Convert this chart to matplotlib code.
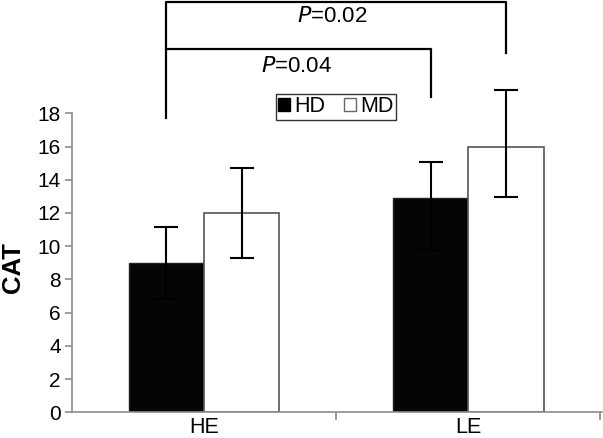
import matplotlib
matplotlib.use('Agg')
import matplotlib.pyplot as plt
import numpy as np
from matplotlib.patches import Patch

groups = ['HE', 'LE']
series = ['HD', 'MD']
hd_vals = [9.0, 12.9]
md_vals = [12.0, 16.0]
hd_err_lo = [2.15, 3.15]
hd_err_hi = [2.15, 2.15]
md_err_lo = [2.7, 3.05]
md_err_hi = [2.7, 3.4]
p_labels = ['0.04', '0.02']

plt.rcParams['font.family'] = ['Liberation Sans', 'DejaVu Sans']

fig = plt.figure(figsize=(6.03, 4.38), dpi=100)
ax = fig.add_axes([0.1194, 0.0587, 0.8786, 0.9413])

x = np.arange(len(groups))
w = 0.285
gray = '#8c8c8c'

ax.bar(x - w / 2, hd_vals, w, color='#050505', edgecolor='#222222', linewidth=1, zorder=2)
ax.bar(x + w / 2, md_vals, w, color='white', edgecolor='#555555', linewidth=1.2, zorder=2)
ax.errorbar(x - w / 2, hd_vals, yerr=[hd_err_lo, hd_err_hi], fmt='none', ecolor='black',
            elinewidth=1.5, capsize=8.6, capthick=1.5, zorder=3)
ax.errorbar(x + w / 2, md_vals, yerr=[md_err_lo, md_err_hi], fmt='none', ecolor='black',
            elinewidth=1.5, capsize=8.6, capthick=1.5, zorder=3)

ax.set_xlim(-0.5, 1.505)
ax.set_ylim(0, 24.82)

# significance brackets
x_he_hd = x[0] - w / 2
x_le_hd = x[1] - w / 2
x_le_md = x[1] + w / 2
ax.plot([x_he_hd, x_he_hd, x_le_hd, x_le_hd], [17.7, 21.85, 21.85, 19.0],
        color='black', lw=1.6, clip_on=False)
ax.plot([x_he_hd, x_he_hd, x_le_md, x_le_md], [21.85, 24.7, 24.7, 21.6],
        color='black', lw=1.6, clip_on=False)
ax.text(0.35, 20.8, '$\\it{P}$=' + p_labels[0], ha='center', va='center', fontsize=16)
ax.text(0.485, 23.8, '$\\it{P}$=' + p_labels[1], ha='center', va='center', fontsize=16)

for s in ['top', 'right']:
    ax.spines[s].set_visible(False)
ax.spines['left'].set_bounds(0, 18)
ax.spines['left'].set_color(gray)
ax.spines['bottom'].set_color(gray)
ax.spines['left'].set_linewidth(1.2)
ax.spines['bottom'].set_linewidth(1.2)

ax.set_yticks(np.arange(0, 19, 2))
ax.tick_params(axis='y', colors=gray, labelcolor='black', labelsize=15, length=5, width=1.2, pad=3)
ax.set_xticks(x)
ax.set_xticklabels(groups)
ax.set_xticks([0.5, 1.5], minor=True)
ax.tick_params(axis='x', which='major', length=0, labelsize=15.5, pad=3.5)
ax.tick_params(axis='x', which='minor', length=6, width=1.2, colors=gray)

ax.set_ylabel('CAT', fontsize=18.5, fontweight='bold')
ax.yaxis.set_label_coords(-0.089, 0.352)

handles = [Patch(facecolor='black', edgecolor='black', label=series[0]),
           Patch(facecolor='white', edgecolor='#666666', label=series[1])]
leg = ax.legend(handles=handles, loc='center', bbox_to_anchor=(0.557, 0.756),
                bbox_transform=fig.transFigure, ncol=2, fontsize=15.5, frameon=True,
                fancybox=False, edgecolor='black', handlelength=0.55, handleheight=0.55,
                handletextpad=0.2, columnspacing=0.9, borderpad=0.1, borderaxespad=0)
leg.get_frame().set_linewidth(1.0)

fig.savefig('out.png', dpi=100)
